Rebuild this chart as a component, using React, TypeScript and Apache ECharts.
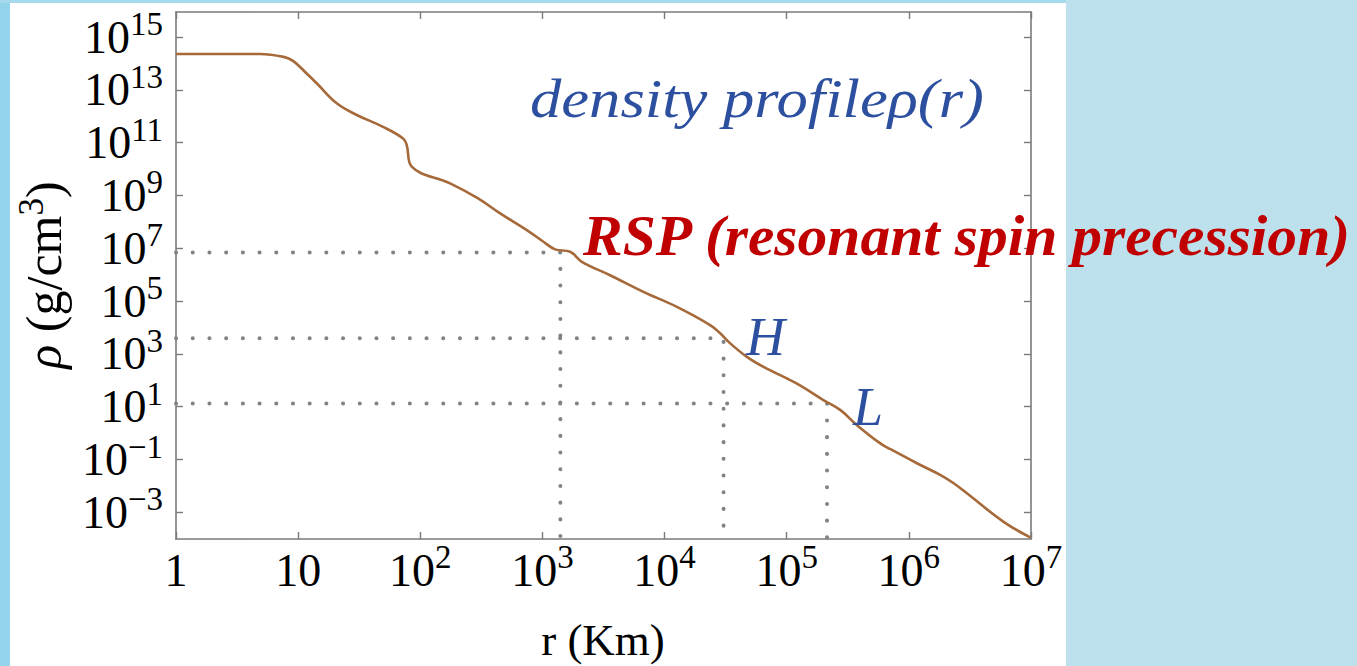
import React, { useEffect, useRef } from 'react';
import * as echarts from 'echarts';

// log10(r / Km)
const logR = [0, 0.688, 0.88, 0.958, 1.07, 1.152, 1.316, 1.48, 1.695, 1.859, 1.889, 1.93, 2.244, 2.473, 2.654, 2.872, 3.008, 3.104, 3.227, 3.323, 3.554, 3.827, 4.101, 4.373, 4.455, 4.537, 4.674, 4.81, 5.08, 5.3, 5.44, 5.575, 5.766, 5.85, 6.07, 6.26, 6.37, 6.475, 6.776, 6.994];
// log10(rho / g cm^-3)
const logRho = [14.36, 14.36, 14.25, 14.1, 13.62, 13.25, 12.49, 12.05, 11.6, 11.16, 10.91, 10.09, 9.46, 8.89, 8.32, 7.69, 7.25, 6.96, 6.87, 6.49, 5.98, 5.35, 4.78, 4.09, 3.78, 3.4, 2.89, 2.51, 1.88, 1.25, 0.87, 0.3, -0.39, -0.61, -1.15, -1.59, -1.91, -2.28, -3.36, -3.95];

// resonance points [log r, log rho]
const rspPoint = [3.147, 6.845];
const hPoint = [4.483, 3.59];
const lPoint = [5.33, 1.125];

const yTicks = [15, 13, 11, 9, 7, 5, 3, 1, -1, -3];

const X_MIN = 0, X_MAX = 7;
const Y_MIN = -4.01, Y_MAX = 15.95;

const FONT = 'Liberation Serif';

const sup = (n: number) => (n < 0 ? '\u2212' + Math.abs(n) : String(n));

const richLabel = {
  b: { fontSize: 46, fontFamily: FONT, color: '#000', lineHeight: 46, verticalAlign: 'middle' },
  s: { fontSize: 33, fontFamily: FONT, color: '#000', height: 20, verticalAlign: 'top' },
};

const frameColor = '#7a7a7a';

export default function App() {
  const ref = useRef<HTMLDivElement>(null);
  useEffect(() => {
    const chart = echarts.init(ref.current!, null, { renderer: 'svg' });
    const curve = logR.map((x, i) => [x, logRho[i]]);
    const guide = (p: number[]) => [[X_MIN, p[1]], [p[0], p[1]], [p[0], Y_MIN]];
    const dotted = (p: number[]) => ({
      type: 'line',
      data: guide(p),
      showSymbol: false,
      symbol: 'none',
      z: 1,
      lineStyle: { color: '#7f8585', width: 4, type: [0.1, 16.6], cap: 'round' },
      silent: true,
    });
    const axisLine = { show: true, onZero: false, lineStyle: { color: frameColor, width: 1.6 } };
    const tick = { show: true, inside: true, length: 7, lineStyle: { color: frameColor, width: 1.4 } };
    chart.setOption({
      animation: false,
      backgroundColor: 'transparent',
      grid: { left: 176, right: 326, top: 12, bottom: 127, containLabel: false },
      xAxis: [
        {
          type: 'value', position: 'bottom', min: X_MIN, max: X_MAX, interval: 1,
          axisLine, axisTick: tick, splitLine: { show: false },
          axisLabel: {
            margin: 8,
            showMinLabel: true, showMaxLabel: true,
            formatter: (v: number) => (v === 0 ? '{b|1}' : v === 1 ? '{b|10}' : `{b|10}{s|${sup(v)}}`),
            rich: richLabel,
          },
        },
        {
          type: 'value', position: 'top', min: X_MIN, max: X_MAX, interval: 1,
          axisLine, axisTick: tick, splitLine: { show: false }, axisLabel: { show: false },
        },
      ],
      yAxis: [
        {
          type: 'value', position: 'left', min: Y_MIN, max: Y_MAX,
          axisLine, splitLine: { show: false },
          axisTick: { ...tick, customValues: yTicks },
          axisLabel: {
            margin: 13,
            customValues: yTicks,
            formatter: (v: number) => `{b|10}{s|${sup(v)}}`,
            rich: richLabel,
          },
        },
        {
          type: 'value', position: 'right', min: Y_MIN, max: Y_MAX,
          axisLine, splitLine: { show: false },
          axisTick: { ...tick, customValues: yTicks },
          axisLabel: { show: false },
        },
      ],
      series: [
        dotted(rspPoint),
        dotted(hPoint),
        dotted(lPoint),
        {
          type: 'line',
          data: curve,
          showSymbol: false,
          symbol: 'none',
          smooth: 0.4,
          z: 3,
          lineStyle: { color: '#A5693A', width: 2.6 },
        },
      ],
      graphic: [
        {
          type: 'text', x: 44, y: 275, rotation: Math.PI / 2, z: 10,
          style: {
            text: '{i|\u03c1} (g/cm{s|3})',
            align: 'center', verticalAlign: 'middle',
            fill: '#000',
            rich: {
              i: { fontSize: 50, fontFamily: FONT, fontStyle: 'italic', lineHeight: 50, verticalAlign: 'middle' },
              s: { fontSize: 35, fontFamily: FONT, height: 24, verticalAlign: 'top' },
            },
            font: `50px "${FONT}"`,
            lineHeight: 50,
          },
        },
        {
          type: 'text', x: 603, y: 640, z: 10,
          style: { text: 'r (Km)', align: 'center', verticalAlign: 'middle', font: `45px "${FONT}"`, fill: '#000' },
        },
        {
          type: 'text', x: 530, y: 99, z: 10, scaleX: 1.16,
          style: { text: 'density profile\u03c1(r)', verticalAlign: 'middle', font: `italic 54px "${FONT}"`, fill: '#2C4F9F' },
        },
        {
          type: 'text', x: 583, y: 236, z: 10, scaleX: 1.045,
          style: { text: 'RSP (resonant spin precession)', verticalAlign: 'middle', font: `italic bold 57px "${FONT}"`, fill: '#C00000' },
        },
        {
          type: 'text', x: 746, y: 337, z: 10,
          style: { text: 'H', verticalAlign: 'middle', font: `italic 54px "${FONT}"`, fill: '#2C4F9F' },
        },
        {
          type: 'text', x: 853, y: 407, z: 10,
          style: { text: 'L', verticalAlign: 'middle', font: `italic 54px "${FONT}"`, fill: '#2C4F9F' },
        },
      ],
    });
    return () => chart.dispose();
  }, []);
  return (
    <div style={{ position: 'fixed', left: 0, top: 0, width: 1357, height: 666, background: '#BDE1EC', overflow: 'hidden' }}>
      <div style={{ position: 'absolute', left: 0, top: 0, width: 10, height: 666, background: '#93D4EC' }} />
      <div style={{ position: 'absolute', left: 0, top: 0, width: 1066, height: 3, background: '#A5DAEC' }} />
      <div style={{ position: 'absolute', left: 10, top: 3, width: 1056, height: 663, background: '#ffffff' }} />
      <div ref={ref} style={{ position: 'absolute', left: 0, top: 0, width: 1357, height: 666 }} />
    </div>
  );
}
